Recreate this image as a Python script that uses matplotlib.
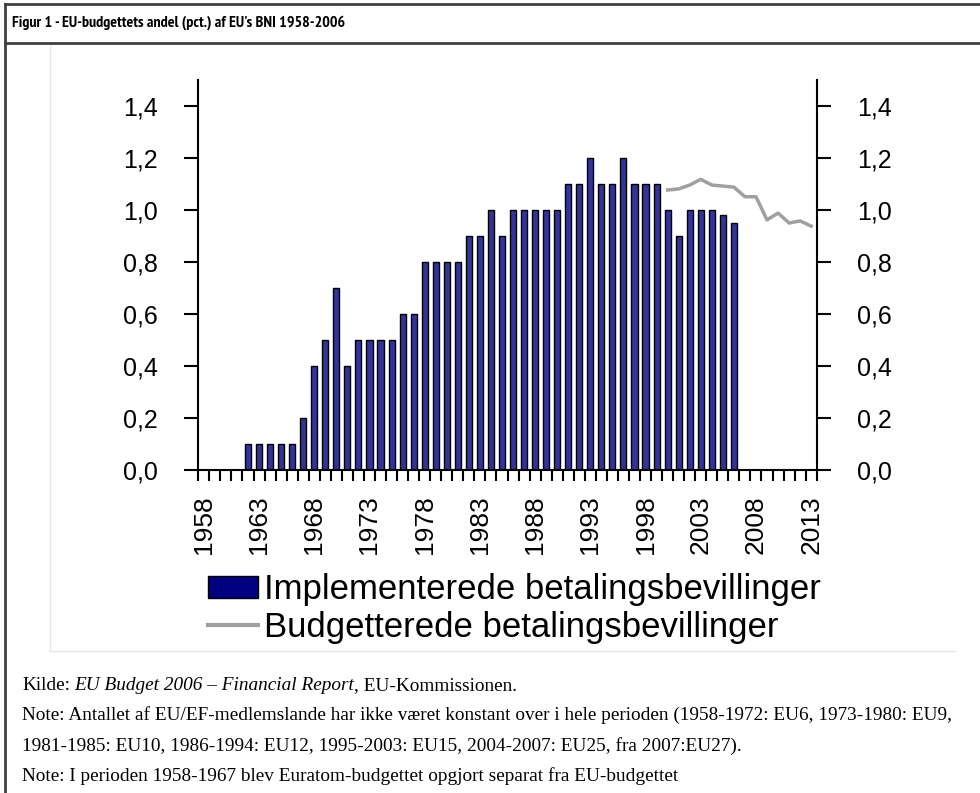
''' EU-budgettets andel af EU's BNI 1958-2006, genskabt med matplotlib. '''
import matplotlib
import matplotlib.pyplot as plt
from matplotlib import font_manager
from matplotlib.lines import Line2D
from matplotlib.patches import Patch
from matplotlib.ticker import FuncFormatter

matplotlib.use('Agg')

W, H = 980, 793

# Implementerede betalingsbevillinger (bars)
bar_years = list(range(1962, 2007))
bar_values = [0.1, 0.1, 0.1, 0.1, 0.1, 0.2, 0.4, 0.5, 0.7, 0.4,
              0.5, 0.5, 0.5, 0.5, 0.6, 0.6, 0.8, 0.8, 0.8, 0.8,
              0.9, 0.9, 1.0, 0.9, 1.0, 1.0, 1.0, 1.0, 1.0, 1.1,
              1.1, 1.2, 1.1, 1.1, 1.2, 1.1, 1.1, 1.1, 1.0, 0.9,
              1.0, 1.0, 1.0, 0.98, 0.95]

# Budgetterede betalingsbevillinger (line)
line_years = list(range(2000, 2014))
line_values = [1.077, 1.081, 1.096, 1.118, 1.096, 1.092, 1.088,
               1.051, 1.051, 0.962, 0.988, 0.950, 0.958, 0.938]

label_years = list(range(1958, 2014, 5))
y_ticks = [0.0, 0.2, 0.4, 0.6, 0.8, 1.0, 1.2, 1.4]

TITLE = "Figur 1 - EU-budgettets andel (pct.) af EU's BNI 1958-2006"
LEGEND_LABELS = ['Implementerede betalingsbevillinger',
                 'Budgetterede betalingsbevillinger']

SANS = ['Liberation Sans', 'DejaVu Sans']
SERIF = ['Liberation Serif', 'DejaVu Serif']


def narrow_font():
    ''' Look for an upright narrow / condensed bold font for the title. '''
    best, best_score = None, -1
    for f in font_manager.fontManager.ttflist:
        name = f.name + ' ' + str(f.stretch) + ' ' + f.fname
        if not ('Narrow' in name or 'ondensed' in name):
            continue
        if f.style != 'normal' or 'Italic' in f.fname:
            continue
        score = 1
        if 'Narrow' in name or 'Roboto' in name:
            score += 2
        if f.weight in ('bold', 700) or 'Bold' in f.fname:
            score += 1
        if score > best_score:
            best, best_score = f, score
    return best


def fx(x):
    return x / W


def fy(y):
    return 1 - y / H


fig = plt.figure(figsize=(W / 100, H / 100), dpi=100)
fig.patch.set_facecolor('white')

# frame lines round the figure
for (x0, y0, x1, y1, c, lw) in [
        (5, 4, W, 4, '#404040', 2.0),
        (5, 4, 5, H, '#404040', 2.0),
        (5, 43, W, 43, '#404040', 2.0),
        (50, 46, 50, 651, '#e6e6e6', 1.0),
        (50, 651, 955, 651, '#e6e6e6', 1.0)]:
    fig.add_artist(Line2D([fx(x0), fx(x1)], [fy(y0), fy(y1)],
                          transform=fig.transFigure, color=c, lw=lw))

nf = narrow_font()
if nf is not None:
    title = fig.text(fx(12), fy(23), TITLE, va='center',
                     fontproperties=font_manager.FontProperties(
                         fname=nf.fname, size=11.5))
else:
    title = fig.text(fx(12), fy(23), TITLE, fontsize=10, fontweight='bold',
                     family=SANS, va='center')

# keep the title close to its width in the reference
fig.canvas.draw()
tw = title.get_window_extent().width
if tw > 350:
    title.set_fontsize(title.get_fontsize() * 350 / tw)

left, right, top, bottom = 198.3, 816.7, 80, 470
ax = fig.add_axes([fx(left), fy(bottom), (right - left) / W, (bottom - top) / H])

ax.bar(bar_years, bar_values, width=0.55, color='#333399',
       edgecolor='black', linewidth=1)
ax.plot(line_years, line_values, color='#a0a0a0', lw=2.5)

ax.set_xlim(1957.5, 2013.5)
ax.set_ylim(0, 1.5)

ax.spines['top'].set_visible(False)
for s in ['left', 'right', 'bottom']:
    ax.spines[s].set_linewidth(1.5)

ax.set_yticks(y_ticks)
ax.yaxis.set_major_formatter(FuncFormatter(lambda v, p: f'{v:.1f}'.replace('.', ',')))
ax.tick_params(axis='y', direction='out', length=10, width=1.5, pad=19,
               labelsize=18, left=True, right=True,
               labelleft=True, labelright=True)

ax.set_xticks([y - 0.5 for y in range(1958, 2015)])
ax.set_xticklabels([])
ax.tick_params(axis='x', which='major', direction='out', length=8, width=1.5)
ax.set_xticks(label_years, minor=True)
ax.set_xticklabels([str(y) for y in label_years], minor=True, rotation=90)
ax.tick_params(axis='x', which='minor', length=0, pad=18, labelsize=19)

for lab in ax.get_xticklabels(minor=True) + ax.get_yticklabels():
    lab.set_family(SANS)

handles = [Patch(facecolor='#000080', edgecolor='black', lw=1),
           Line2D([], [], color='#a0a0a0', lw=3)]
fig.legend(handles, LEGEND_LABELS, loc='upper left',
           bbox_to_anchor=(fx(208), fy(573)), frameon=False,
           prop={'family': SANS, 'size': 25}, handlelength=1.45,
           handleheight=0.62, handletextpad=0.15, labelspacing=0.15,
           borderpad=0, borderaxespad=0)

notes = [
    (686, [('Kilde:', 'normal'), ('EU Budget 2006 \u2013 Financial Report', 'italic'),
           (', EU-Kommissionen.', 'normal')]),
    (715, [('Note: Antallet af EU/EF-medlemslande har ikke v\u00e6ret konstant over i hele '
            'perioden (1958-1972: EU6, 1973-1980: EU9,', 'normal')]),
    (746, [('1981-1985: EU10, 1986-1994: EU12, 1995-2003: EU15, 2004-2007: EU25, '
            'fra 2007:EU27).', 'normal')]),
    (776, [('Note: I perioden 1958-1967 blev Euratom-budgettet opgjort separat '
            'fra EU-budgettet', 'normal')]),
]
NOTE_SIZE = 13.85
gaps = {', EU-Kommissionen.': 0}
for y, parts in notes:
    prev = None
    for text, style in parts:
        if prev is None:
            prev = fig.text(fx(22), fy(y), text, fontsize=NOTE_SIZE, fontstyle=style,
                            family=SERIF, va='center')
        else:
            prev = ax.annotate(text, xy=(1, 0), xycoords=prev,
                               xytext=(gaps.get(text, 3), 0),
                               textcoords='offset points', va='bottom',
                               fontsize=NOTE_SIZE, fontstyle=style, family=SERIF)

fig.savefig('out.png', dpi=100)
